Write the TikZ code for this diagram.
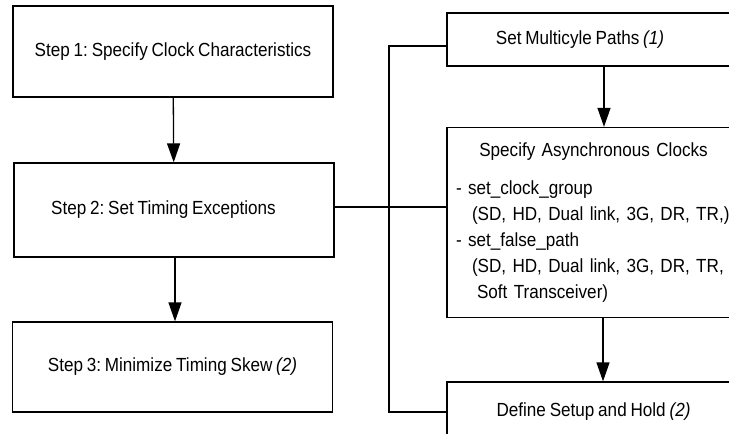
\documentclass[tikz,border=0pt]{standalone}
\usepackage{fontspec}
\setmainfont{Liberation Sans}[FakeStretch=0.9, WordSpace=0.8]
\frenchspacing
\usetikzlibrary{arrows.meta, positioning, calc}

\begin{document}
\begin{tikzpicture}[x=1pt, y=-1pt, >={Triangle[width=13pt, length=19pt]},
  stepbox/.style={draw, line width=1.3pt, inner sep=0pt, minimum width=320pt,
    minimum height=91pt, font=\fontsize{19}{26}\selectfont},
  sidebox/.style={stepbox, minimum width=293pt},
  link/.style={line width=1.3pt}]
  \useasboundingbox (0,0) rectangle (729,434);
  \clip (0,0) rectangle (729,434);
  % Steps
  \node[stepbox] (step1) at (173,51.5) {\raisebox{-3pt}{Step 1: Specify Clock Characteristics}};
  \node[stepbox, minimum height=94pt] (step2) at (174,210)
    {\raisebox{5pt}{Step 2: Set Timing Exceptions}\hspace*{21pt}};
  \node[stepbox, minimum height=90pt] (step3) at (172.5,367)
    {Step 3: Minimize Timing Skew \textit{(2)}};
  % Timing exceptions
  \node[sidebox, minimum height=53pt] (mp) at (593.5,39.5)
    {Set Multicyle Paths \textit{(1)}\hspace*{27pt}};
  \node[sidebox, minimum height=190pt, text width=275pt, align=left] (async) at (593.5,222.5)
    {\makebox[\linewidth][c]{Specify Asynchronous Clocks}\\[12pt]
     - set\_clock\_group\\
     \hspace*{16pt}(SD, HD, Dual link, 3G, DR, TR,)\\
     - set\_false\_path\\
     \hspace*{16pt}(SD, HD, Dual link, 3G, DR, TR,\\
     \hspace*{21pt}Soft Transceiver)};
  \node[sidebox, minimum height=60pt] (dsh) at (593.5,412)
    {\raisebox{2pt}{Define Setup and Hold \textit{(2)}}};
  % Arrows
  \draw[link, ->] (step1) -- (step2);
  \draw[link, ->] ([xshift=1pt]step2.south) -- ([xshift=1pt]step2.south |- step3.north);
  \draw[link, ->] ([xshift=10.5pt]mp.south) -- ([xshift=10.5pt]mp.south |- async.north);
  \draw[link, ->] ([xshift=9.5pt]async.south) -- ([xshift=9.5pt]async.south |- dsh.north);
  % Bracket
  \coordinate (bus) at (389,0);
  \draw[link] ([yshift=-6.5pt]mp.west) -| (bus |- dsh.west) -- (dsh.west);
  \draw[link] ([yshift=3pt]step2.east) -- ([yshift=3pt]step2.east -| async.west);
\end{tikzpicture}
\end{document}
